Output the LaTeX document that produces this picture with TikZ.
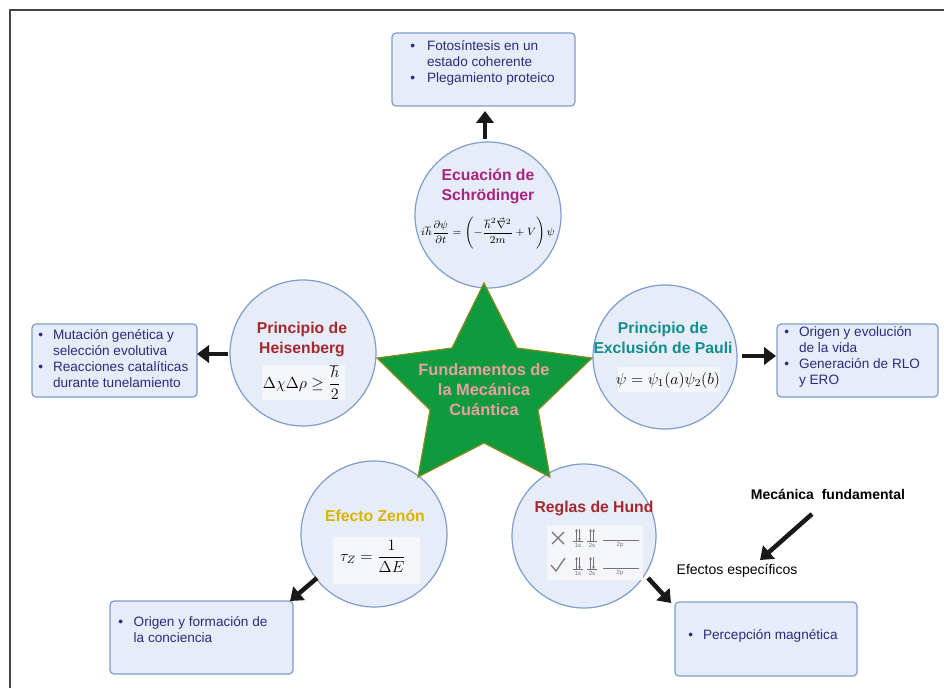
\documentclass[tikz,border=0pt]{standalone}
\usepackage{fontspec}
\setmainfont{Liberation Sans}
\usepackage{amsmath}
\usetikzlibrary{arrows.meta}
\definecolor{boxfill}{HTML}{E6ECF8}
\definecolor{boxline}{HTML}{7E9CCD}
\definecolor{navy}{HTML}{2D2A80}
\definecolor{magen}{HTML}{A8247E}
\definecolor{dred}{HTML}{A5282C}
\definecolor{tealc}{HTML}{0F8E8E}
\definecolor{goldc}{HTML}{D8B400}
\definecolor{stargreen}{HTML}{0F9A3D}
\definecolor{starline}{HTML}{8C8A1E}
\definecolor{pinktxt}{HTML}{E9A0A3}
\definecolor{eqbg}{HTML}{F5F6FA}
\definecolor{framec}{HTML}{444444}
\newcommand{\bl}{\textbullet}
\tikzset{
  infobox/.style={draw=boxline, fill=boxfill, line width=0.9pt, rounded corners=3pt, inner sep=0pt},
  bubble/.style={circle, draw=boxline, fill=boxfill, line width=0.9pt, minimum size=109.5pt, inner sep=0pt},
  itemtext/.style={anchor=west, inner sep=0pt, text=navy, font=\fontsize{10.2}{12}\selectfont},
  title/.style={align=center, inner sep=0pt, font=\fontsize{11.8}{15}\selectfont\bfseries},
  eqbox/.style={fill=eqbg, inner sep=0pt},
  fatarrow/.style={line width=3.4pt, draw=black!90, -{Triangle[width=13pt,length=9pt]}},
  hundtxt/.style={inner sep=0pt, text=black!55, font=\fontsize{4.5}{5}\selectfont},
  hundarr/.style={black!55, line width=0.5pt, -{Stealth[length=2pt,width=2pt]}},
}
\begin{document}
\begin{tikzpicture}[x=0.75pt,y=-0.75pt]
\useasboundingbox (0,0) rectangle (944,688);
\draw[framec, line width=0.8pt] (10,688) -- (10,10) -- (944,10);

% boxes
\node[infobox, minimum width=137.25pt, minimum height=54.75pt] (topbox) at (483.5,69.5) {};
\node[itemtext] (toptext) at (410,63) {\begin{tabular}{@{}c@{\hspace{9pt}}l@{}}\bl & Fotosíntesis en un\\ & estado coherente\\ \bl & Plegamiento proteico\end{tabular}};

\node[infobox, minimum width=123.75pt, minimum height=54.75pt] (leftbox) at (114.5,360.5) {};
\node[itemtext] (lefttext) at (38,360) {\begin{tabular}{@{}c@{\hspace{7.5pt}}l@{}}\bl & Mutación genética y\\ & selección evolutiva\\ \bl & Reacciones catalíticas\\ & durante tunelamiento\end{tabular}};

\node[infobox, minimum width=120.75pt, minimum height=54.75pt] (rightbox) at (857.5,360.5) {};
\node[itemtext] (righttext) at (784,357) {\begin{tabular}{@{}c@{\hspace{7.5pt}}l@{}}\bl & Origen y evolución\\ & de la vida\\ \bl & Generación de RLO\\ & y ERO\end{tabular}};

\node[infobox, minimum width=137.25pt, minimum height=54.75pt] (blbox) at (201.5,637.5) {};
\node[itemtext] (bltext) at (118,631) {\begin{tabular}{@{}c@{\hspace{8pt}}l@{}}\bl & Origen y formación de\\ & la conciencia\end{tabular}};

\node[infobox, minimum width=136.5pt, minimum height=55.5pt] (brbox) at (766,639) {};
\node[itemtext] (brtext) at (688,636) {\begin{tabular}{@{}c@{\hspace{7.5pt}}l@{}}\bl & Percepción magnética\end{tabular}};

% circles
\node[bubble] (schr) at (488,215) {};
\node[bubble] (heis) at (303,353) {};
\node[bubble, minimum size=108pt] (pauli) at (665,357) {};
\node[bubble] (zenon) at (374,534) {};
\node[bubble, minimum size=108pt] (hund) at (584,536) {};

% titles
\node[title, text=magen] (schrT) at (488,186) {Ecuación de\\Schrödinger};
\node[inner sep=0pt, font=\fontsize{8.2}{10}\selectfont] (schrE) at (488,233) {$\displaystyle i\hbar\frac{\partial\psi}{\partial t}=\left(-\frac{\hbar^2\vec{\nabla}^2}{2m}+V\right)\psi$};

\node[title, text=dred] (heisT) at (302,339) {Principio de\\Heisenberg};
\node[eqbox, minimum width=62pt, minimum height=26pt] (heisbg) at (303.5,382.5) {};
\node[inner sep=0pt, font=\fontsize{11.5}{13}\selectfont] (heisE) at (302,383) {$\displaystyle \Delta\chi\Delta\rho\geq\frac{\hbar}{2}$};

\node[title, text=tealc] (pauliT) at (663,338) {Principio de\\Exclusión de Pauli};
\node[eqbox, minimum width=76.5pt, minimum height=19pt] (paulibg) at (669,379.5) {};
\node[inner sep=0pt, font=\fontsize{11.5}{13}\selectfont] (pauliE) at (668,380) {$\psi=\psi_1(a)\psi_2(b)$};

\node[title, text=goldc] (zenonT) at (375,516) {Efecto Zenón};
\node[eqbox, minimum width=65pt, minimum height=35pt] (zenonbg) at (376.5,560.5) {};
\node[inner sep=0pt, font=\fontsize{11.5}{13}\selectfont] (zenonE) at (373,556) {$\displaystyle \tau_Z=\frac{1}{\Delta E}$};

\node[title, text=dred] (hundT) at (594,508) {Reglas de Hund};
\node[eqbox, minimum width=72pt, minimum height=41pt] (hundbg) at (595,552.5) {};
% Hund diagram row 1
\draw[black!55, line width=0.9pt] (552,532) -- (564,544) (552,544) -- (564,532);
\draw[hundarr] (576.5,541) -- (576.5,529);
\draw[hundarr] (579.5,529) -- (579.5,541);
\draw[black!55, line width=0.3pt] (573,541.5) -- (583,541.5);
\node[hundtxt] (h11) at (578,545) {1s};
\draw[hundarr] (590.5,541) -- (590.5,529);
\draw[hundarr] (593.5,541) -- (593.5,529);
\draw[black!55, line width=0.3pt] (587,541.5) -- (597,541.5);
\node[hundtxt] (h12) at (592,545) {2s};
\draw[black!55, line width=0.4pt] (603,540) -- (639,540);
\node[hundtxt] (h13) at (620,545) {2p};
% row 2
\draw[black!55, line width=0.9pt] (551,565) -- (556,571) -- (565,558);
\draw[hundarr] (576.5,569) -- (576.5,557);
\draw[hundarr] (579.5,557) -- (579.5,569);
\draw[black!55, line width=0.3pt] (573,569.5) -- (583,569.5);
\node[hundtxt] (h21) at (578,573.5) {1s};
\draw[hundarr] (590.5,569) -- (590.5,557);
\draw[hundarr] (593.5,557) -- (593.5,569);
\draw[black!55, line width=0.3pt] (587,569.5) -- (597,569.5);
\node[hundtxt] (h22) at (592,573.5) {2s};
\draw[black!55, line width=0.4pt] (603,568) -- (639,568);
\node[hundtxt] (h23) at (620,573.5) {2p};

% star
\draw[fill=stargreen, draw=starline, line width=0.9pt]
  (484,283) -- (517,348) -- (592,358) -- (538,410) -- (550,477) -- (484,443)
  -- (418,477) -- (430,410) -- (377,358) -- (452,348) -- cycle;
\node[align=center, inner sep=0pt, text=pinktxt, font=\fontsize{12.3}{15}\selectfont\bfseries] (star) at (484,390) {Fundamentos de\\la Mecánica\\Cuántica};

% legend
\node[inner sep=0pt, font=\fontsize{10.5}{12}\selectfont\bfseries] (mecf) at (828,494) {Mecánica\ \ fundamental};
\node[inner sep=0pt, font=\fontsize{10.5}{12}\selectfont] (efes) at (737,571) {Efectos específicos};

% arrow coordinates
\coordinate (a1s) at (485,139); \coordinate (a1e) at (485,111);
\coordinate (a2s) at (228,354); \coordinate (a2e) at (197,354);
\coordinate (a3s) at (742,356); \coordinate (a3e) at (776,356);
\coordinate (a4s) at (317,578); \coordinate (a4e) at (290,601);
\coordinate (a5s) at (648,578); \coordinate (a5e) at (671,603);
\coordinate (a6s) at (812,514); \coordinate (a6e) at (760,560);
\draw[fatarrow] (a1s) -- (a1e);
\draw[fatarrow] (a2s) -- (a2e);
\draw[fatarrow] (a3s) -- (a3e);
\draw[fatarrow] (a4s) -- (a4e);
\draw[fatarrow] (a5s) -- (a5e);
\draw[fatarrow] (a6s) -- (a6e);
\end{tikzpicture}
\end{document}
